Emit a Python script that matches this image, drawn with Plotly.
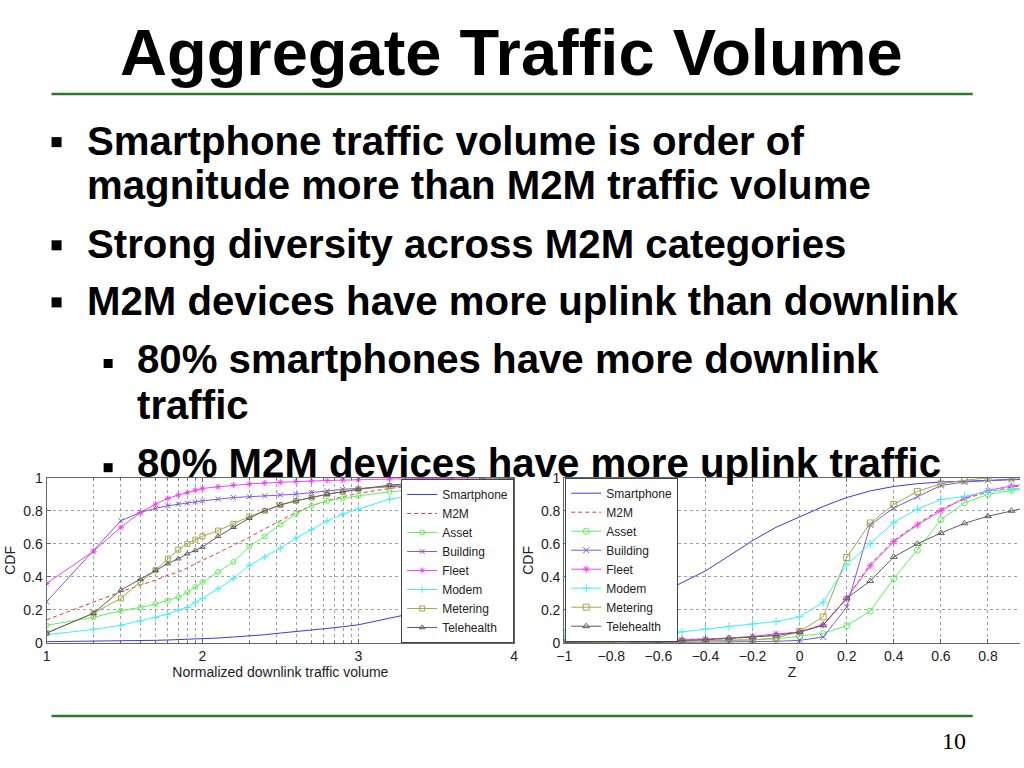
import plotly.graph_objects as go

# downlink traffic volume (log scale, axis labelled by exponent)
dl_volume = [10, 20, 30, 40, 50, 60, 70, 80, 90, 100,
             126, 158, 200, 251, 316, 398, 501, 631, 794, 1000,
             1585, 2512, 3981, 6310, 10000]

dl_smartphone = [0.008, 0.010, 0.012, 0.014, 0.016, 0.018, 0.020, 0.022, 0.024, 0.026,
                 0.030, 0.036, 0.042, 0.050, 0.060, 0.068, 0.078, 0.088, 0.098, 0.110,
                 0.150, 0.190, 0.240, 0.310, 0.395]
dl_m2m = [0.14, 0.25, 0.31, 0.35, 0.38, 0.41, 0.43, 0.455, 0.48, 0.50,
          0.545, 0.59, 0.64, 0.69, 0.74, 0.79, 0.83, 0.86, 0.885, 0.905,
          0.935, 0.955, 0.97, 0.98, 0.985]
dl_asset = [0.107, 0.155, 0.195, 0.215, 0.236, 0.256, 0.277, 0.307, 0.338, 0.369,
            0.43, 0.49, 0.584, 0.645, 0.717, 0.78, 0.83, 0.86, 0.875, 0.89,
            0.915, 0.93, 0.945, 0.955, 0.963]
dl_building = [0.25, 0.555, 0.74, 0.79, 0.815, 0.83, 0.84, 0.847, 0.853, 0.86,
               0.87, 0.88, 0.885, 0.89, 0.895, 0.90, 0.91, 0.92, 0.93, 0.935,
               0.945, 0.955, 0.965, 0.975, 0.98]
dl_fleet = [0.36, 0.555, 0.70, 0.79, 0.84, 0.875, 0.895, 0.91, 0.925, 0.935,
            0.945, 0.955, 0.962, 0.968, 0.973, 0.977, 0.98, 0.983, 0.986, 0.988,
            0.992, 0.995, 0.997, 0.999, 1.0]
dl_modem = [0.05, 0.082, 0.107, 0.133, 0.154, 0.174, 0.20, 0.215, 0.246, 0.27,
            0.328, 0.39, 0.47, 0.52, 0.574, 0.635, 0.686, 0.738, 0.78, 0.81,
            0.87, 0.90, 0.93, 0.95, 0.967]
dl_metering = [0.06, 0.18, 0.27, 0.37, 0.44, 0.51, 0.565, 0.60, 0.625, 0.645,
               0.68, 0.72, 0.765, 0.80, 0.835, 0.86, 0.88, 0.90, 0.915, 0.93,
               0.95, 0.965, 0.975, 0.985, 0.99]
dl_telehealth = [0.06, 0.18, 0.32, 0.385, 0.44, 0.48, 0.51, 0.54, 0.56, 0.58,
                 0.645, 0.70, 0.755, 0.80, 0.835, 0.86, 0.88, 0.90, 0.915, 0.93,
                 0.955, 0.97, 0.98, 0.99, 0.995]

# uplink/downlink balance Z
z_vals = [-1.0, -0.9, -0.8, -0.7, -0.6, -0.5, -0.4, -0.3, -0.2, -0.1, 0.0,
          0.1, 0.2, 0.3, 0.4, 0.5, 0.6, 0.7, 0.8, 0.9, 1.0]

z_smartphone = [0.075, 0.11, 0.152, 0.223, 0.294, 0.36, 0.436, 0.527, 0.619, 0.70, 0.765,
                0.826, 0.88, 0.92, 0.947, 0.964, 0.974, 0.98, 0.984, 0.988, 0.99]
z_m2m = [0.005, 0.007, 0.009, 0.011, 0.013, 0.016, 0.02, 0.028, 0.035, 0.05, 0.067,
         0.112, 0.27, 0.477, 0.619, 0.72, 0.81, 0.872, 0.913, 0.943, 0.96]
z_asset = [0.0, 0.002, 0.004, 0.006, 0.008, 0.01, 0.012, 0.015, 0.02, 0.025, 0.04,
           0.057, 0.105, 0.193, 0.39, 0.562, 0.746, 0.848, 0.899, 0.923, 0.94]
z_building = [0.0, 0.0, 0.001, 0.002, 0.003, 0.004, 0.005, 0.006, 0.008, 0.01, 0.016,
              0.036, 0.217, 0.714, 0.817, 0.886, 0.953, 0.974, 0.984, 0.99, 0.995]
z_fleet = [0.005, 0.008, 0.01, 0.012, 0.015, 0.02, 0.025, 0.03, 0.04, 0.055, 0.065,
           0.11, 0.27, 0.467, 0.613, 0.714, 0.80, 0.877, 0.923, 0.95, 0.965]
z_modem = [0.04, 0.042, 0.045, 0.048, 0.05, 0.067, 0.085, 0.10, 0.115, 0.13, 0.158,
           0.247, 0.473, 0.60, 0.73, 0.81, 0.868, 0.886, 0.917, 0.93, 0.95]
z_metering = [0.0, 0.002, 0.004, 0.005, 0.008, 0.01, 0.012, 0.015, 0.018, 0.03, 0.07,
              0.158, 0.517, 0.726, 0.838, 0.917, 0.963, 0.984, 1.0, 1.0, 1.0]
z_telehealth = [0.003, 0.005, 0.007, 0.009, 0.012, 0.015, 0.02, 0.028, 0.035, 0.045, 0.067,
                0.107, 0.27, 0.375, 0.521, 0.60, 0.665, 0.724, 0.767, 0.80, 0.83]

cdf_ticks = [0, 0.2, 0.4, 0.6, 0.8, 1]
cdf_ticktext = ["0", "0.2", "0.4", "0.6", "0.8", "1"]
dl_tickvals = [10, 100, 1000, 10000]
dl_ticktext = ["1", "2", "3", "4"]

title_text = "Aggregate Traffic Volume"
# (indent level, text, baseline in px, draws a bullet)
bullets = [
    (1, "Smartphone traffic volume is order of", 155, True),
    (1, "magnitude more than M2M traffic volume", 199, False),
    (1, "Strong diversity across M2M categories", 258, True),
    (1, "M2M devices have more uplink than downlink", 315, True),
    (2, "80% smartphones have more downlink", 373, True),
    (2, "traffic", 419, False),
    (2, "80% M2M devices have more uplink traffic", 477, True),
]

W, H = 1024, 768
# the photographed page comes out slightly shrunk and shifted; undo it
SX, OX = 0.987, 8.5
SY, OY = 0.9775, 8.1


def px(x):
    return (x - OX) / SX / W


def py(y):
    return 1 - (y - OY) / SY / H


# series styles: name, colour, dash, marker symbol
styles = [
    ("Smartphone", "#3b3be0", "solid", None),
    ("M2M", "#e23a3a", "4px,3px", None),
    ("Asset", "#5ef05e", "solid", "circle-open"),
    ("Building", "#7a5ad8", "solid", "x-thin-open"),
    ("Fleet", "#ee45ee", "solid", "asterisk-open"),
    ("Modem", "#3ef0f6", "solid", "cross-thin-open"),
    ("Metering", "#a6a64a", "solid", "square-open"),
    ("Telehealth", "#5e5e5e", "solid", "triangle-up-open"),
]
dl_series = [dl_smartphone, dl_m2m, dl_asset, dl_building, dl_fleet, dl_modem, dl_metering, dl_telehealth]
z_series = [z_smartphone, z_m2m, z_asset, z_building, z_fleet, z_modem, z_metering, z_telehealth]

fig = go.Figure()

for (name, color, dash, symbol), ys in zip(styles, dl_series):
    fig.add_trace(go.Scatter(
        x=dl_volume, y=ys, name=name, xaxis="x", yaxis="y", legend="legend",
        mode="lines+markers" if symbol else "lines",
        line=dict(color=color, width=1, dash=dash),
        marker=dict(symbol=symbol or "circle", size=5, color=color,
                    line=dict(color=color, width=1)),
    ))

for (name, color, dash, symbol), ys in zip(styles, z_series):
    fig.add_trace(go.Scatter(
        x=z_vals, y=ys, name=name, xaxis="x2", yaxis="y2", legend="legend2",
        mode="lines+markers" if symbol else "lines",
        line=dict(color=color, width=1, dash=dash),
        marker=dict(symbol=symbol or "circle", size=6, color=color,
                    line=dict(color=color, width=1)),
    ))

tick_font = dict(family="Liberation Sans, Arial", size=14, color="#222")
grid = dict(showgrid=True, gridcolor="#a0a0a0", griddash="dot", gridwidth=1)
frame = dict(showline=True, linecolor="#666", linewidth=1, ticks="inside", ticklen=4,
             tickcolor="#666", zeroline=False, tickfont=tick_font)
legend_style = dict(bgcolor="white", bordercolor="#444", borderwidth=1,
                    font=dict(family="Liberation Sans, Arial", size=12, color="#222"),
                    tracegroupgap=0, itemwidth=30)

fig.update_layout(
    width=W, height=H,
    margin=dict(l=0, r=0, t=0, b=0),
    paper_bgcolor="white", plot_bgcolor="white",
    xaxis=dict(type="log", range=[1, 4], domain=[px(47), px(514)], anchor="y",
               tickmode="array", tickvals=dl_tickvals, ticktext=dl_ticktext,
               minor=dict(dtick="D1", showgrid=True, gridcolor="#a0a0a0", griddash="dot",
                          ticks="inside", ticklen=2, tickcolor="#666"),
               mirror="allticks",
               title=dict(text="Normalized downlink traffic volume", font=tick_font, standoff=0),
               **grid, **frame),
    yaxis=dict(range=[0, 1], domain=[py(642), py(477)], anchor="x",
               tickvals=cdf_ticks, ticktext=cdf_ticktext,
               mirror="allticks",
               title=dict(text="CDF", font=tick_font, standoff=4),
               **grid, **frame),
    xaxis2=dict(range=[-1, 0.936], domain=[px(564), 1.0], anchor="y2",
                dtick=0.2, tick0=-1, mirror="ticks",
                title=dict(text="Z", font=tick_font, standoff=0),
                **grid, **frame),
    yaxis2=dict(range=[0, 1], domain=[py(642), py(477)], anchor="x2",
                tickvals=cdf_ticks, ticktext=cdf_ticktext,
                title=dict(text="CDF", font=tick_font, standoff=4),
                **grid, **frame),
    legend=dict(x=px(514), xanchor="right", y=py(642), yanchor="bottom", **legend_style),
    legend2=dict(x=px(565), xanchor="left", y=py(477), yanchor="top", **legend_style),
    showlegend=True,
)

slide_font = "Liberation Sans, Arial, sans-serif"

fig.add_annotation(text=title_text, x=px(511), y=py(53), xref="paper", yref="paper",
                   xanchor="center", yanchor="middle", showarrow=False,
                   font=dict(family=slide_font, size=65, color="black", weight="bold"))

for level, text, baseline, has_bullet in bullets:
    text_x = 85 if level == 1 else 135
    fig.add_annotation(text=text, x=px(text_x), y=py(baseline - 14), xref="paper", yref="paper",
                       xanchor="left", yanchor="middle", showarrow=False,
                       font=dict(family=slide_font, size=40.2, color="black", weight="bold"))
    if has_bullet:
        if level == 1:
            bx0, bx1, cy, half = 52, 62, baseline - 13, 5
        else:
            bx0, bx1, cy, half = 104, 113, baseline - 10, 4.5
        fig.add_shape(type="rect", xref="paper", yref="paper",
                      x0=px(bx0), x1=px(bx1), y0=py(cy + half), y1=py(cy - half),
                      fillcolor="black", line=dict(width=0))

for line_y in (94, 715):
    fig.add_shape(type="line", xref="paper", yref="paper",
                  x0=px(52), x1=px(972), y0=py(line_y), y1=py(line_y),
                  line=dict(color="#2b7a2b", width=2.5))

fig.add_annotation(text="10", x=px(953), y=py(740), xref="paper", yref="paper",
                   xanchor="center", yanchor="middle", showarrow=False,
                   font=dict(family="Liberation Serif, Times New Roman", size=24, color="black"))

# drop the default page margin so the figure sits at the window origin
fig.write_html("out.html", config={"displayModeBar": False},
               post_script="document.body.style.margin='0';"
                           "document.documentElement.style.overflow='hidden';")
